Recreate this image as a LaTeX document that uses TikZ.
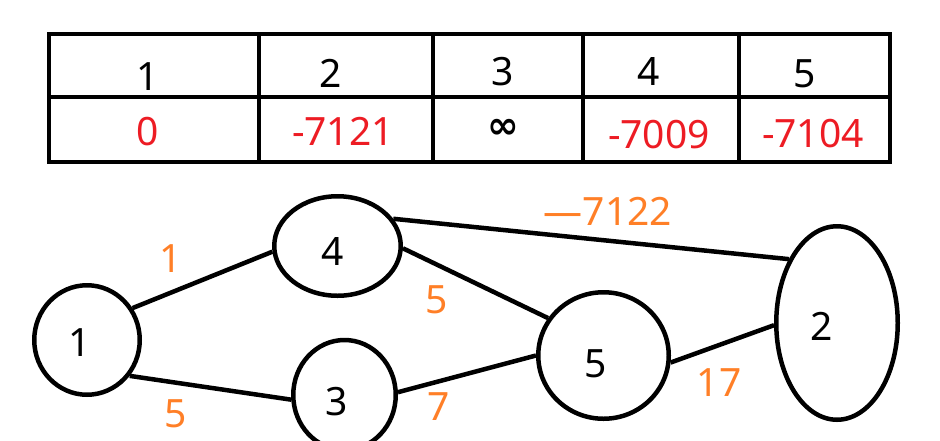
\documentclass[tikz,border=0pt]{standalone}
\usepackage{fontspec}
\setmainfont{Noto Sans}
\newfontfamily\symfont{DejaVu Sans}
\usetikzlibrary{shapes.geometric}
\definecolor{vred}{HTML}{ED1C24}
\definecolor{worange}{HTML}{FF7F27}
\tikzset{
  vert/.style={draw, ellipse, line width=4.5pt, inner sep=0pt},
  txt/.style={anchor=base, inner sep=0pt, font=\fontsize{39}{44}\selectfont},
  hdr/.style={txt, text=black},
  val/.style={txt, text=vred},
  wt/.style={anchor=center, inner sep=0pt, text=worange, font=\fontsize{39}{44}\selectfont},
  edge/.style={line width=4.5pt}
}
\begin{document}
\begin{tikzpicture}[x=1pt,y=-1pt]
\useasboundingbox (0,0) rectangle (940,440);
\clip (0,0) rectangle (940,440);
% table
\draw[line width=4.5pt] (49,34) rectangle (890,162);
\draw[line width=4.5pt] (49,97) -- (890,97);
\foreach \x in {259,433,583,739} \draw[line width=4.5pt] (\x,34) -- (\x,162);
\node[hdr] (h1) at (148,90) {1};
\node[hdr] (h2) at (331,87) {2};
\node[hdr] (h3) at (503,85) {3};
\node[hdr] (h4) at (649,85) {4};
\node[hdr] (h5) at (805,87) {5};
\node[val] (d1) at (148,145) {0};
\node[val] (d2) at (343,145) {-7121};
\node[anchor=center, inner sep=0pt, font=\symfont\bfseries\fontsize{38}{40}\selectfont] (d3) at (503,129) {∞};
\node[val] (d4) at (659,148) {-7009};
\node[val] (d5) at (813,147) {-7104};
% vertices
\node[vert, minimum width=105.5pt, minimum height=109.5pt] (v1) at (87,340) {};
\node[vert, minimum width=126.5pt, minimum height=99.5pt] (v4) at (337.5,246) {};
\node[vert, minimum width=102.5pt, minimum height=110pt] (v3) at (344.5,395) {};
\node[vert, minimum width=130.5pt, minimum height=126.5pt] (v5) at (603.5,355.5) {};
\node[vert, minimum width=121.5pt, minimum height=193.5pt] (v2) at (837,323) {};
\node[hdr] (t1) at (80,356) {1};
\node[hdr] (t4) at (333,265) {4};
\node[hdr] (t3) at (337,415) {3};
\node[hdr] (t5) at (596,377) {5};
\node[hdr] (t2) at (822,340) {2};
% edges
\draw[edge] (v1.35) -- (v4.185);
\draw[edge] (v1.-40) -- (v3.185);
\draw[edge] (v4.26) -- (v2.127);
\draw[edge] (v4.-2) -- (v5.146);
\draw[edge] (v3.3) -- (v5.180);
\draw[edge] (v5.-6) -- (v2.182);
% weights
\node[wt] (w14) at (171,259) {1};
\node[wt] (w45) at (437,300) {5};
\node[wt] (w13) at (176,414) {5};
\node[wt] (w35) at (439,407) {7};
\node[wt] (w42) at (608,211) {{\bfseries —}7122};
\node[wt] (w52) at (719,383) {17};
\end{tikzpicture}
\end{document}
